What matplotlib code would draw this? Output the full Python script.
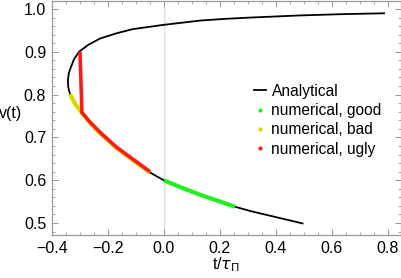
import matplotlib
matplotlib.use("Agg")
import matplotlib.pyplot as plt
from matplotlib.lines import Line2D
from matplotlib.ticker import MultipleLocator

plt.rcParams['font.family'] = ['Liberation Sans', 'DejaVu Sans']

# analytical curve, read along the curve from v=0.5 up to the top branch
t_analytic = [0.496, 0.309, 0.255, 0.130, 0.058, 0.000, -0.049, -0.110, -0.170,
              -0.2275, -0.262, -0.292, -0.316, -0.3346, -0.341, -0.342, -0.339,
              -0.331, -0.320, -0.3025, -0.270, -0.2275, -0.170, -0.110, 0.000,
              0.130, 0.220, 0.309, 0.487, 0.640, 0.787]
v_analytic = [0.499, 0.528, 0.538, 0.566, 0.584, 0.600, 0.618, 0.647, 0.676,
              0.710, 0.733, 0.757, 0.778, 0.801, 0.818, 0.834, 0.850,
              0.865, 0.883, 0.900, 0.916, 0.931, 0.943, 0.953, 0.963,
              0.973, 0.977, 0.980, 0.985, 0.988, 0.990]

# numerical runs
t_good = [0.000, 0.058, 0.130, 0.255]
v_good = [0.600, 0.584, 0.566, 0.538]

t_bad = [-0.3346, -0.316, -0.292, -0.262, -0.2275, -0.170, -0.110, -0.049]
v_bad = [0.801, 0.778, 0.757, 0.733, 0.710, 0.676, 0.647, 0.618]

t_ugly = [-0.299, -0.292, -0.262, -0.2275, -0.170, -0.110, -0.049]
v_ugly = [0.900, 0.758, 0.735, 0.712, 0.678, 0.649, 0.620]

green = '#22ee22'
yellow = '#d8d800'
red = '#ff1a1a'
frame = '#999999'

fig = plt.figure(figsize=(4.02, 2.78), dpi=100)
ax = fig.add_axes([0.1286, 0.1547, 0.9975 - 0.1286, 0.9964 - 0.1547])

ax.axvline(0, color='#dddddd', lw=1.0, zorder=0)
ax.plot(t_analytic, v_analytic, color='black', lw=1.3, zorder=2)
ax.plot(t_good, v_good, color=green, lw=3.0, solid_capstyle='butt', zorder=3)
ax.plot(t_bad, v_bad, color=yellow, lw=3.0, solid_capstyle='butt', zorder=3)
ax.plot(t_ugly, v_ugly, color=red, lw=2.6, solid_capstyle='butt', zorder=4)

ax.set_xlim(-0.4, 0.8475)
ax.set_ylim(0.472, 1.0187)

ax.xaxis.set_major_locator(MultipleLocator(0.2))
ax.xaxis.set_minor_locator(MultipleLocator(0.05))
ax.yaxis.set_major_locator(MultipleLocator(0.1))
ax.yaxis.set_minor_locator(MultipleLocator(0.02))
ax.xaxis.set_major_formatter(plt.FuncFormatter(lambda x, p: f"{x:.1f}".replace('-', '\u2212')))
ax.yaxis.set_major_formatter(plt.FuncFormatter(lambda x, p: f"{x:.1f}"))

ax.tick_params(which='both', direction='in', top=True, right=True,
               labeltop=False, labelright=False, color=frame, labelsize=11.5,
               labelcolor='black', pad=4)
ax.tick_params(which='major', length=4, width=0.7)
ax.tick_params(which='minor', length=2.3, width=0.6)
for s in ax.spines.values():
    s.set_color(frame)
    s.set_linewidth(0.9)

ax.set_xlabel(r't/$\tau_\Pi$', fontsize=11.5)
ax.xaxis.set_label_coords(0.5, -0.085)
ax.set_ylabel('v(t)', fontsize=11.5, rotation=0, va='center', ha='center')
ax.yaxis.set_label_coords(-0.117, 0.52)

handles = [
    Line2D([], [], color='black', lw=1.3),
    Line2D([], [], color=green, marker='o', ms=2, lw=0),
    Line2D([], [], color=yellow, marker='o', ms=2, lw=0),
    Line2D([], [], color=red, marker='o', ms=2, lw=0),
]
labels = ['Analytical', 'numerical, good', 'numerical, bad', 'numerical, ugly']
ax.legend(handles, labels, loc='upper left', bbox_to_anchor=(0.558, 0.68),
          frameon=False, fontsize=11.2, handlelength=0.75, handletextpad=0.35,
          labelspacing=0.28, borderpad=0)

fig.savefig('out.png', dpi=100)
